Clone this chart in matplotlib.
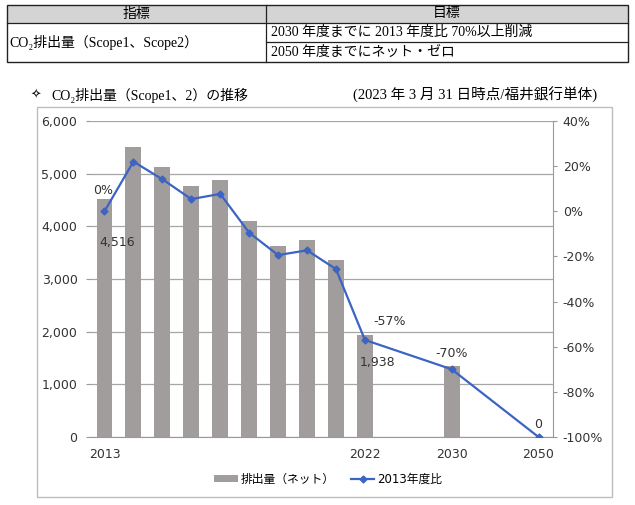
import matplotlib
matplotlib.use("Agg")
import matplotlib.pyplot as plt
from matplotlib.patches import Rectangle, Patch
from matplotlib.lines import Line2D

# ---- data ----
tick_labels = ["2013", "", "", "", "", "", "", "", "", "2022", "", "", "2030", "", "", "2050"]
bar_idx = [0, 1, 2, 3, 4, 5, 6, 7, 8, 9, 12, 15]
emissions = [4516, 5510, 5130, 4765, 4875, 4100, 3625, 3735, 3360, 1938, 1355, 0]
ratio_pct = [0, 22.0, 14.2, 5.4, 7.7, -9.5, -19.4, -17.3, -25.6, -57, -70, -100]

table_rows = [
    ("指標", "目標"),
    ("CO₂排出量（Scope1、Scope2）", "2030 年度までに 2013 年度比 70%以上削減"),
    ("", "2050 年度までにネット・ゼロ"),
]

JP_SERIF = ["Liberation Serif", "Noto Sans CJK JP", "DejaVu Sans"]
NUM_SANS = ["DejaVu Sans", "Noto Sans CJK JP"]
plt.rcParams["font.family"] = NUM_SANS

W, H = 635, 505
fig = plt.figure(figsize=(W / 100, H / 100), dpi=100)

# overlay in pixel coords for table and frame
ov = fig.add_axes([0, 0, 1, 1], zorder=0)
ov.set_xlim(0, W)
ov.set_ylim(H, 0)
ov.axis("off")

# table
tx0, tx1, tmid = 7, 628, 266
ty = [5, 23, 42, 62]
ov.add_patch(Rectangle((tx0, ty[0]), tx1 - tx0, ty[1] - ty[0], fc="#d4d4d4", ec="none"))
ov.add_patch(Rectangle((tx0, ty[0]), tx1 - tx0, ty[3] - ty[0], fc="none", ec="#222222", lw=1.0))
ov.plot([tx0, tx1], [ty[1], ty[1]], color="#222222", lw=0.9)
ov.plot([tmid, tx1], [ty[2], ty[2]], color="#222222", lw=0.9)
ov.plot([tmid, tmid], [ty[0], ty[3]], color="#222222", lw=0.9)
ov.text((tx0 + tmid) / 2, 14, table_rows[0][0], ha="center", va="center", fontsize=10, family=JP_SERIF)
ov.text((tmid + tx1) / 2, 14, table_rows[0][1], ha="center", va="center", fontsize=10, family=JP_SERIF)
ov.text(9, 43, table_rows[1][0], ha="left", va="center", fontsize=10, family=JP_SERIF)
ov.text(271, 32.5, table_rows[1][1], ha="left", va="center", fontsize=10, family=JP_SERIF)
ov.text(271, 52, table_rows[2][1], ha="left", va="center", fontsize=10, family=JP_SERIF)

# chart heading
ov.text(31, 95, "✧", ha="left", va="center", fontsize=9, family=["DejaVu Sans"])
ov.text(51, 95, "CO₂排出量（Scope1、2）の推移", ha="left", va="center", fontsize=10, family=JP_SERIF)
ov.text(353, 95, "(2023 年 3 月 31 日時点/福井銀行単体)", ha="left", va="center", fontsize=10.5, family=JP_SERIF)

# chart frame
ov.add_patch(Rectangle((37, 107), 612 - 37, 497 - 107, fc="none", ec="#bdbdbd", lw=1.0))

# ---- chart ----
ax = fig.add_axes([90 / W, 1 - 437 / H, (553 - 90) / W, (437 - 121) / H], zorder=2)
ax.patch.set_alpha(0)
ax.bar(bar_idx, emissions, width=0.55, color="#a19d9d", zorder=2)
ax.set_xlim(-0.5, 15.5)
ax.set_ylim(0, 6000)
ax.set_yticks(range(0, 6001, 1000))
ax.set_yticklabels([f"{v:,}" for v in range(0, 6001, 1000)], fontsize=9, color="#333333")
ax.set_xticks(range(len(tick_labels)))
ax.set_xticklabels(tick_labels, fontsize=9, color="#333333")
ax.tick_params(axis="x", length=0, pad=8)
ax.tick_params(axis="y", length=3, color="#999999", pad=6)
ax.grid(axis="y", color="#a6a6a6", lw=0.9, zorder=0)
for s in ["top", "right", "left"]:
    ax.spines[s].set_visible(False)
ax.spines["bottom"].set_color("#999999")

ax2 = ax.twinx()
ax2.plot(bar_idx, ratio_pct, color="#3c64c4", lw=1.6, marker="D", ms=3.5,
         mfc="#3c64c4", mec="#3c64c4", zorder=3)
ax2.set_ylim(-100, 40)
ax2.set_yticks(range(-100, 41, 20))
ax2.set_yticklabels([f"{v}%" for v in range(-100, 41, 20)], fontsize=9, color="#333333")
ax2.tick_params(axis="y", length=3, color="#999999", pad=4)
for s in ["top", "left", "bottom"]:
    ax2.spines[s].set_visible(False)
ax2.spines["right"].set_color("#999999")

# data labels
lab = dict(fontsize=9, color="#333333", ha="center", va="center")
ax2.text(bar_idx[0] - 0.05, 9, "0%", **lab)
ax.text(bar_idx[0] + 0.45, 3700, "4,516", **lab)
ax2.text(bar_idx[9] + 0.85, -49, "-57%", **lab)
ax.text(bar_idx[9] + 0.45, 1410, "1,938", **lab)
ax2.text(bar_idx[10], -63, "-70%", **lab)
ax2.text(bar_idx[11], -94.5, "0", **lab)

# legend
handles = [Patch(facecolor="#a19d9d", edgecolor="none"),
           Line2D([], [], color="#3c64c4", lw=1.6, marker="D", ms=3.5)]
fig.legend(handles, ["排出量（ネット）", "2013年度比"], loc="center",
           bbox_to_anchor=(328 / W, 1 - 479 / H), ncol=2, frameon=False,
           fontsize=8.5, handlelength=2.0, handleheight=0.5, columnspacing=1.4,
           handletextpad=0.2)

fig.savefig("out.png", dpi=100)
